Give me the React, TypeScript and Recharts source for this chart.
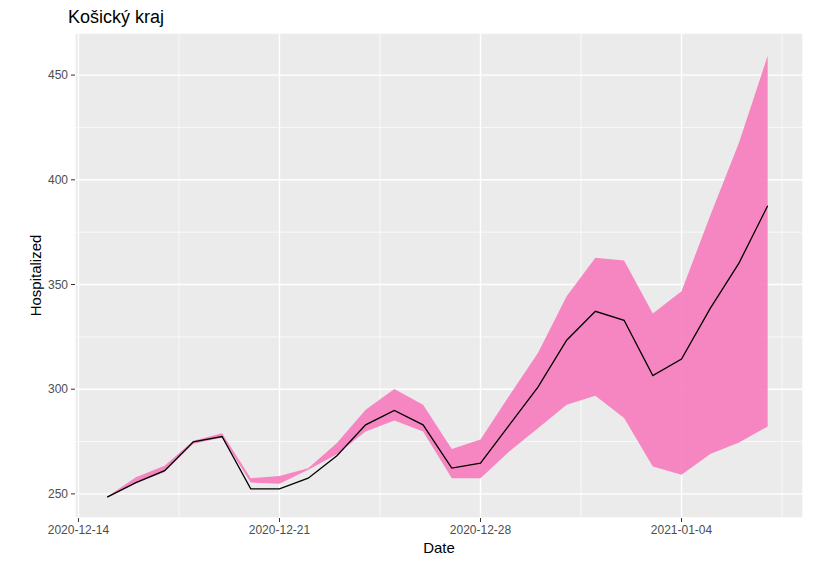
import React from 'react';
import { ComposedChart, Area, Line, XAxis, YAxis, CartesianGrid } from 'recharts';

// --- data ---
const dates = [
  '2020-12-15', '2020-12-16', '2020-12-17', '2020-12-18', '2020-12-19', '2020-12-20',
  '2020-12-21', '2020-12-22', '2020-12-23', '2020-12-24', '2020-12-25', '2020-12-26',
  '2020-12-27', '2020-12-28', '2020-12-29', '2020-12-30', '2020-12-31', '2021-01-01',
  '2021-01-02', '2021-01-03', '2021-01-04', '2021-01-05', '2021-01-06', '2021-01-07',
];
const hospitalized = [
  248.5, 255.4, 261.1, 274.9, 277.4, 252.4, 252.4, 257.5, 268.2, 283.0, 289.9, 283.0,
  262.3, 264.7, 282.9, 301.0, 323.4, 337.2, 332.9, 306.5, 314.4, 338.6, 360.2, 387.6,
];
const upper = [
  248.7, 258.0, 263.4, 275.4, 279.0, 257.5, 258.6, 262.3, 274.3, 290.2, 300.1, 292.6,
  271.4, 276.0, 296.9, 317.3, 344.4, 362.8, 361.5, 336.1, 346.8, 382.9, 417.7, 459.2,
];
const lower = [
  248.3, 255.0, 260.5, 274.0, 277.0, 255.4, 254.8, 261.5, 269.0, 279.8, 285.0, 279.8,
  257.5, 257.5, 270.3, 281.4, 292.6, 296.9, 286.2, 263.1, 259.1, 269.1, 274.5, 282.2,
];
const xTickLabels = ['2020-12-14', '2020-12-21', '2020-12-28', '2021-01-04'];
const yTicks = [250, 300, 350, 400, 450];
const yMinor = [275, 325, 375, 425];

const X_DOMAIN: [number, number] = [-0.12, 25.23];
const Y_DOMAIN: [number, number] = [238.5, 470.1];

const DAY = 86400000;
const origin = Date.parse(xTickLabels[0]);
const toDay = (d: string) => Math.round((Date.parse(d) - origin) / DAY);
const fromDay = (n: number) => new Date(origin + n * DAY).toISOString().slice(0, 10);

const xTicks = xTickLabels.map(toDay);
const xMinor = xTicks.map((t) => t + 3.5);

const data = dates.map((d, i) => ({
  day: toDay(d),
  mean: hospitalized[i],
  band: [lower[i], upper[i]],
}));

// minor grid positions: use the axis scale when available, else map linearly into the plot box
const minorY = (p: any) => {
  const s = p?.yAxis?.scale;
  if (typeof s === 'function') return yMinor.map((v) => s(v));
  const o = p.offset;
  return yMinor.map((v) => o.top + (o.height * (Y_DOMAIN[1] - v)) / (Y_DOMAIN[1] - Y_DOMAIN[0]));
};
const minorX = (p: any) => {
  const s = p?.xAxis?.scale;
  if (typeof s === 'function') return xMinor.map((v) => s(v));
  const o = p.offset;
  return xMinor.map((v) => o.left + (o.width * (v - X_DOMAIN[0])) / (X_DOMAIN[1] - X_DOMAIN[0]));
};

const tickStyle = { fill: '#4D4D4D', fontSize: 12, fontFamily: 'Liberation Sans, Arial, sans-serif' };
const titleFont = 'Liberation Sans, Arial, sans-serif';

const App: React.FC = () => {
  return (
    <div style={{ position: 'absolute', left: 0, top: 0, width: 820, height: 562, background: '#fff' }}>
      <div style={{ position: 'absolute', left: 68, top: 7, fontFamily: titleFont, fontSize: 18, color: '#000' }}>
        Košický kraj
      </div>
      <ComposedChart width={820} height={562} data={data} margin={{ top: 33, right: 17, bottom: 0, left: 0 }}>
        <CartesianGrid fill="#EBEBEB" stroke="#FFFFFF" strokeWidth={0.7}
          horizontalCoordinatesGenerator={minorY}
          verticalCoordinatesGenerator={minorX}
        />
        <CartesianGrid stroke="#FFFFFF" strokeWidth={1.4} />
        <XAxis dataKey="day" type="number" domain={X_DOMAIN} ticks={xTicks}
          tickFormatter={fromDay} allowDataOverflow
          axisLine={false} tickLine={{ stroke: '#333333' }} tickSize={4} tickMargin={3}
          tick={tickStyle} height={44}
          label={{ value: 'Date', position: 'center', dy: 8, fill: '#000', fontSize: 15, fontFamily: titleFont }}
        />
        <YAxis type="number" domain={Y_DOMAIN} ticks={yTicks} allowDataOverflow
          axisLine={false} tickLine={{ stroke: '#333333' }} tickSize={4} tickMargin={3}
          tick={tickStyle} width={75}
          label={{ value: 'Hospitalized', angle: -90, position: 'center', dx: -2, fill: '#000', fontSize: 15, fontFamily: titleFont }}
        />
        <Area dataKey="band" type="linear" fill="#F781BF" fillOpacity={0.95} stroke="none" isAnimationActive={false} />
        <Line dataKey="mean" type="linear" stroke="#000000" strokeWidth={1.3} dot={false} isAnimationActive={false} />
      </ComposedChart>
    </div>
  );
};

export default App;
